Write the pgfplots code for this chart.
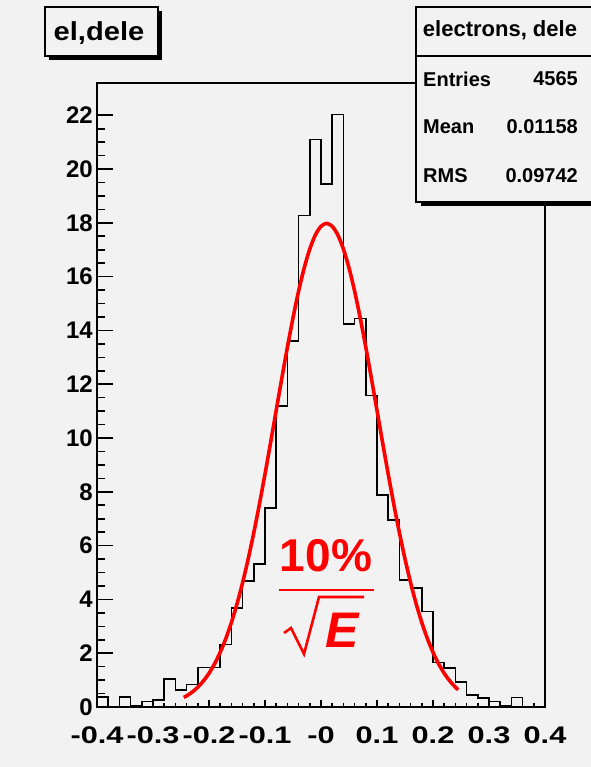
\documentclass[border=0pt]{standalone}
\usepackage{fontspec}
\setmainfont{Liberation Sans}
\usepackage{pgfplots}
\pgfplotsset{compat=1.18}
\definecolor{bg}{RGB}{242,242,242}
\definecolor{rootred}{RGB}{255,0,0}
\begin{document}
\begin{tikzpicture}[x=1bp,y=1bp]
\fill[bg] (0,0) rectangle (591,767);
\useasboundingbox (0,0) rectangle (591,767);
\begin{axis}[
  at={(97bp,60bp)}, anchor=south west,
  scale only axis, width=448bp, height=624bp,
  xmin=-0.4, xmax=0.4, ymin=0, ymax=23.2,
  axis background/.style={fill=bg},
  axis line style={line width=2bp, black},
  tick align=inside, tick pos=left,
  xtick={-0.4,-0.3,-0.2,-0.1,0,0.1,0.2,0.3,0.4},
  xticklabels={-0.4,-0.3,-0.2,-0.1,-0,0.1,0.2,0.3,0.4},
  ytick={0,2,4,6,8,10,12,14,16,18,20,22},
  yticklabels={0,2,4,6,8,10,12,14,16,18,20,22},
  minor x tick num=4, minor y tick num=3,
  xtick style={line width=1.6bp, black, /pgfplots/major tick length=7bp, /pgfplots/minor tick length=3.5bp},
  ytick style={line width=1.6bp, black, /pgfplots/major tick length=16bp, /pgfplots/minor tick length=8bp},
  xticklabel style={font=\bfseries\fontsize{24bp}{24bp}\selectfont, xscale=1.28, yshift=-16bp},
  yticklabel style={font=\bfseries\fontsize{24bp}{24bp}\selectfont, inner sep=2bp, xshift=-2bp},
]
\addplot[const plot, black, line width=1.6bp] coordinates {
(-0.40,0) (-0.40,0.37) (-0.38,0) (-0.36,0.37) (-0.34,0.05) (-0.32,0.2) (-0.30,0.26)
(-0.28,1.03) (-0.26,0.63) (-0.24,0.84) (-0.22,1.47) (-0.20,1.47) (-0.18,2.32)
(-0.16,3.68) (-0.14,4.68) (-0.12,5.31) (-0.10,7.39) (-0.08,11.18) (-0.06,13.6)
(-0.04,18.28) (-0.02,21.1) (0.00,19.44) (0.02,22.03) (0.04,14.25) (0.06,14.44)
(0.08,11.58) (0.10,7.88) (0.12,6.95) (0.14,4.72) (0.16,4.43) (0.18,3.55)
(0.20,1.65) (0.22,1.45) (0.24,0.94) (0.26,0.45) (0.28,0.34) (0.30,0.2)
(0.32,0.05) (0.34,0.36) (0.36,0) (0.38,0) (0.40,0)
};
\addplot[rootred, line width=3.6bp, smooth] coordinates {
(-0.245,0.355) (-0.24,0.413) (-0.23,0.555) (-0.22,0.737) (-0.21,0.968) (-0.20,1.254)
(-0.19,1.607) (-0.18,2.034) (-0.17,2.542) (-0.16,3.140) (-0.15,3.832) (-0.14,4.622)
(-0.13,5.506) (-0.12,6.482) (-0.11,7.538) (-0.10,8.660) (-0.09,9.830) (-0.08,11.026)
(-0.07,12.217) (-0.06,13.376) (-0.05,14.467) (-0.04,15.461) (-0.03,16.324) (-0.02,17.029)
(-0.01,17.551) (0.00,17.871) (0.01,17.98) (0.02,17.871) (0.03,17.551) (0.04,17.029)
(0.05,16.324) (0.06,15.461) (0.07,14.467) (0.08,13.376) (0.09,12.217) (0.10,11.026)
(0.11,9.830) (0.12,8.660) (0.13,7.538) (0.14,6.482) (0.15,5.506) (0.16,4.622)
(0.17,3.832) (0.18,3.140) (0.19,2.542) (0.20,2.034) (0.21,1.607) (0.22,1.254)
(0.23,0.968) (0.24,0.737) (0.245,0.641)
};
\end{axis}
% annotation
\node[text=rootred, font=\bfseries\fontsize{46bp}{46bp}\selectfont] at (326,211) {10\%};
\draw[rootred, line width=2.6bp] (279,177) -- (374,177);
\draw[rootred, line width=2.6bp, line join=miter] (284,134) -- (291,139) -- (304,113) -- (319,170) -- (364,170);
\node[text=rootred, font=\bfseries\itshape\fontsize{50bp}{50bp}\selectfont, inner sep=0pt] at (342,137) {E};
% title box
\fill[black] (49,707) rectangle (162,756);
\filldraw[fill=bg, draw=black, line width=1.6bp] (45,711) rectangle (158,760);
\node[font=\bfseries\fontsize{26bp}{26bp}\selectfont, xscale=1.12] at (99,734) {el,dele};
% stats box
\fill[black] (421,561) rectangle (600,755);
\filldraw[fill=bg, draw=black, line width=1.6bp] (416,565) rectangle (598,760);
\draw[black, line width=1.6bp] (416,711) -- (598,711);
\node[font=\bfseries\fontsize{22bp}{22bp}\selectfont] at (500,737) {electrons, dele};
\begin{scope}[every node/.style={font=\bfseries\fontsize{20bp}{20bp}\selectfont, inner sep=0pt}]
\node[anchor=west] at (423,688) {Entries};
\node[anchor=east] at (578,688) {4565};
\node[anchor=west] at (423,640) {Mean};
\node[anchor=east] at (578,640) {0.01158};
\node[anchor=west] at (423,591) {RMS};
\node[anchor=east] at (578,591) {0.09742};
\end{scope}
\end{tikzpicture}
\end{document}
